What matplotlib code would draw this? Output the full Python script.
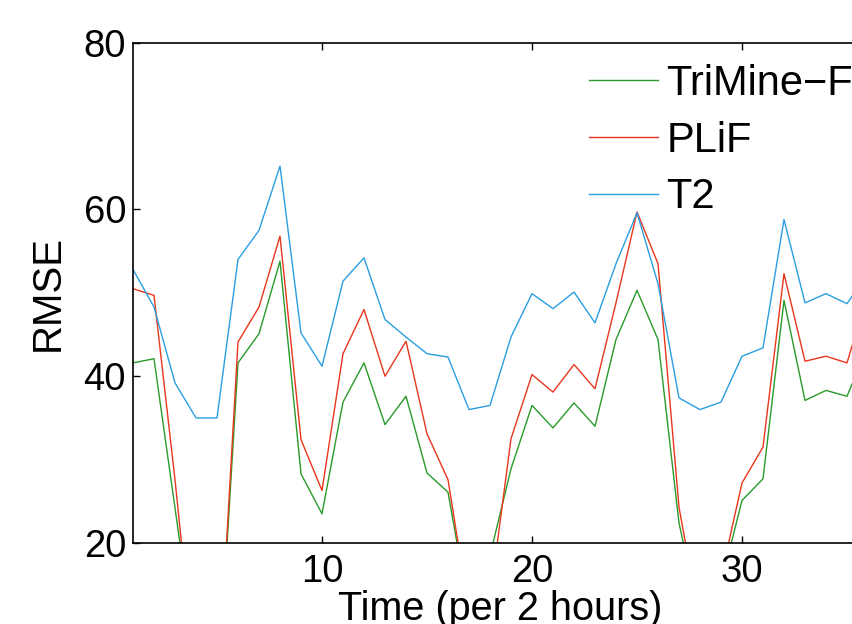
import matplotlib
matplotlib.use("Agg")
import matplotlib.pyplot as plt

plt.rcParams['font.family'] = ['Liberation Sans', 'DejaVu Sans']

# time steps (per 2 hours)
time = list(range(1, 37))

trimine_f = [41.6, 42.1, 24.2, 6.3, 0.0, 41.6, 45.1, 53.8, 28.3, 23.5,
             36.9, 41.6, 34.2, 37.6, 28.4, 26.1, 11.9, 18.5, 28.9, 36.5,
             33.8, 36.8, 34.0, 44.4, 50.3, 44.4, 22.4, 10.7, 15.1, 25.1,
             27.7, 49.1, 37.1, 38.3, 37.6, 43.7]
plif = [50.5, 49.7, 27.6, 3.0, 0.0, 44.1, 48.3, 56.8, 32.4, 26.3,
        42.7, 48.0, 40.0, 44.2, 33.1, 27.6, 11.8, 13.3, 32.5, 40.2,
        38.1, 41.4, 38.5, 48.8, 59.7, 53.5, 24.3, 10.4, 15.9, 27.2,
        31.5, 52.3, 41.8, 42.4, 41.6, 50.0]
t2 = [52.8, 48.3, 39.2, 35.0, 35.0, 54.0, 57.5, 65.2, 45.2, 41.2,
      51.4, 54.2, 46.8, 44.7, 42.7, 42.3, 36.0, 36.5, 44.7, 49.9,
      48.1, 50.1, 46.4, 53.5, 59.6, 51.1, 37.4, 36.0, 36.9, 42.4,
      43.4, 58.8, 48.8, 49.9, 48.7, 52.4]

fig = plt.figure(figsize=(8.52, 6.24), dpi=100)
# axes runs past the right edge of the picture, as in the original crop
ax = fig.add_axes([133 / 852, 81 / 624, 735 / 852, 500.3 / 624])

ax.plot(time, trimine_f, color='#2a9a2a', lw=1.0, label='TriMine\u2212F')
ax.plot(time, plif, color='#e8361c', lw=1.0, label='PLiF')
ax.plot(time, t2, color='#2a9ee0', lw=1.0, label='T2')

ax.set_xlim(1, 36)
ax.set_ylim(20, 80)
ax.set_xticks([10, 20, 30])
ax.set_yticks([20, 40, 60, 80])
ax.tick_params(direction='in', top=True, right=True, length=5, width=1,
               labelsize=27.5)
ax.tick_params(axis='x', pad=8)
ax.tick_params(axis='y', pad=5)
for sp in ax.spines.values():
    sp.set_linewidth(1.2)

ax.set_xlabel('Time (per 2 hours)', fontsize=28.5, labelpad=0)
ax.set_ylabel('RMSE', fontsize=29, labelpad=12)

ax.legend(loc='upper left', bbox_to_anchor=(589 / 852, 1 - 64 / 624),
          bbox_transform=fig.transFigure, frameon=False, fontsize=30,
          handlelength=1.66, handletextpad=0.2, labelspacing=0.4,
          borderpad=0, borderaxespad=0)

fig.savefig('out.png', dpi=100)
